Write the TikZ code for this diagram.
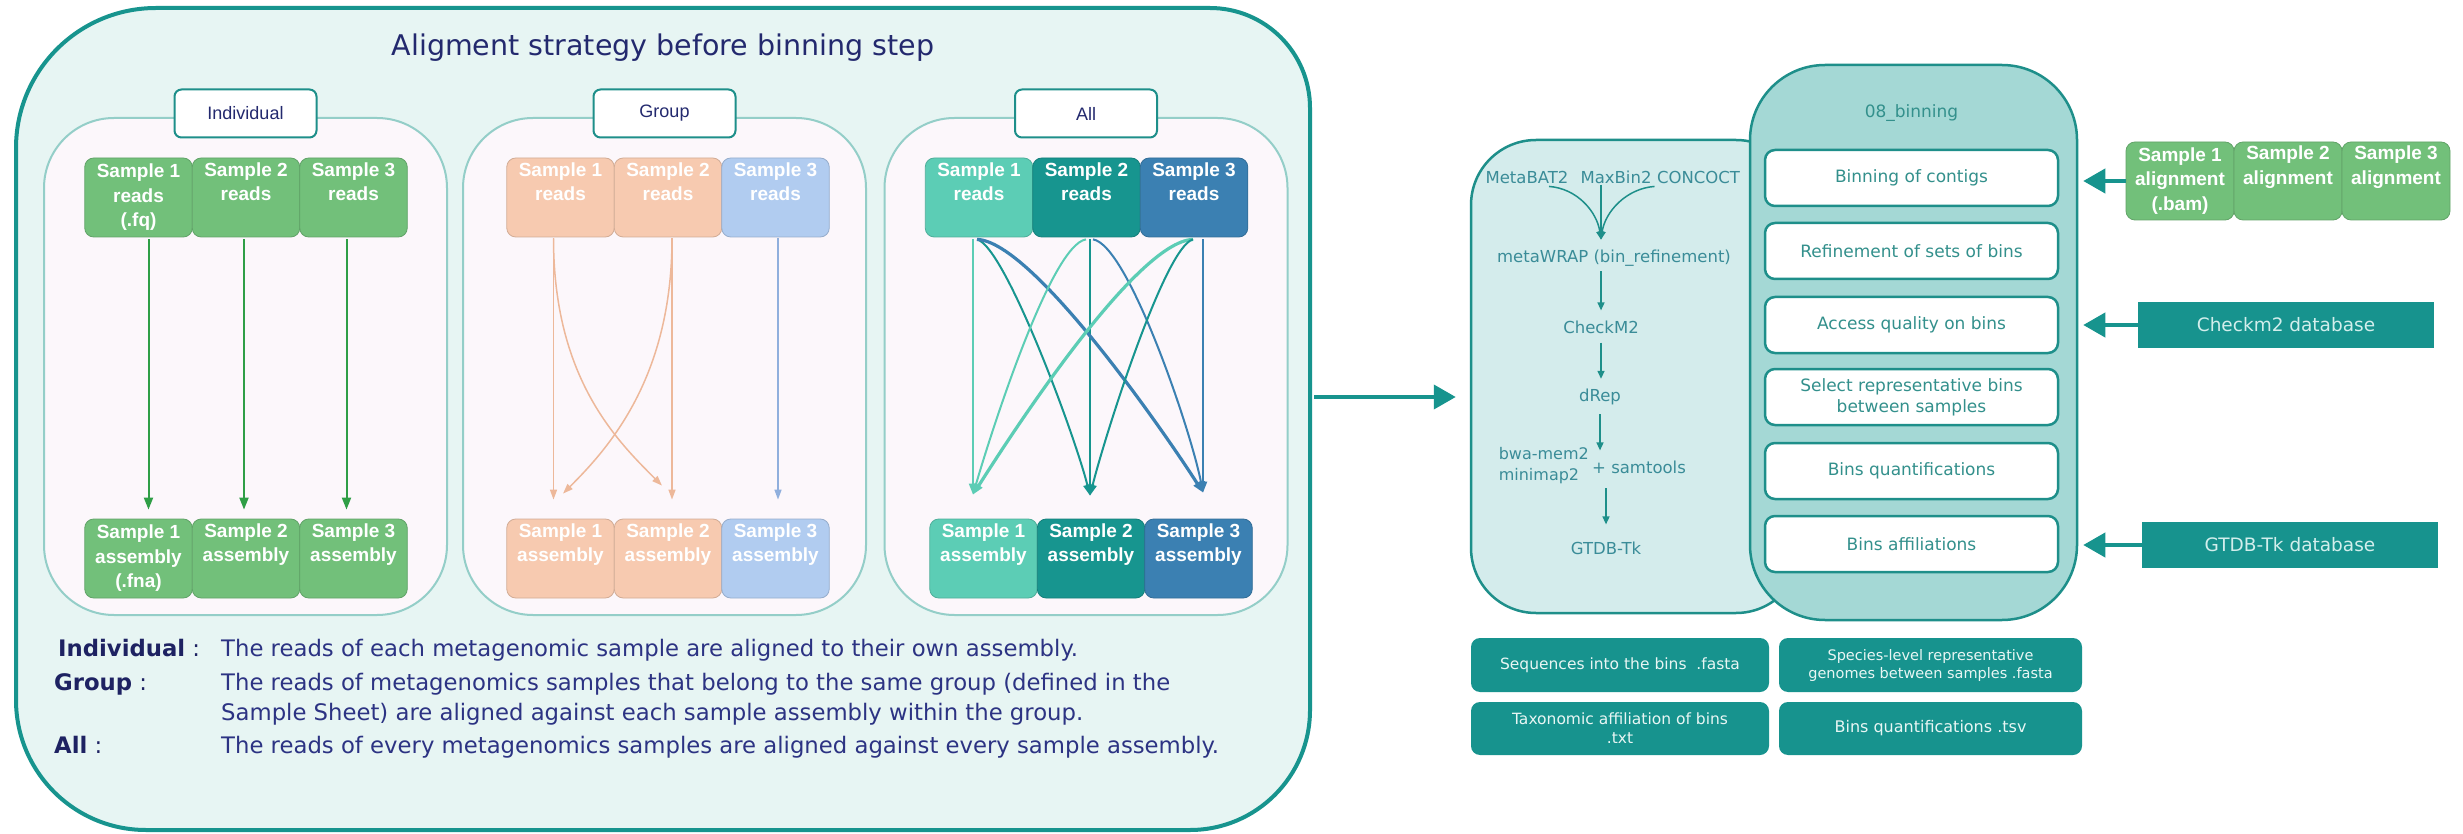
\documentclass[tikz,border=0pt]{standalone}
\usepackage{fontspec}
\setmainfont{DejaVu Sans}
\newfontfamily\arialf{Liberation Sans}
\usetikzlibrary{arrows.meta,calc}
\definecolor{outerfill}{HTML}{E7F5F3}
\definecolor{outerline}{HTML}{17948E}
\definecolor{panelfill}{HTML}{FCF7FB}
\definecolor{panelline}{HTML}{94CEC8}
\definecolor{navy}{HTML}{23296E}
\definecolor{navydark}{HTML}{1E2262}
\definecolor{navytext}{HTML}{2C3383}
\definecolor{sgreen}{HTML}{72C07A}
\definecolor{agreen}{HTML}{2F9E46}
\definecolor{speach}{HTML}{F7CAB0}
\definecolor{apeach}{HTML}{EDB89A}
\definecolor{sblue}{HTML}{B1CCF0}
\definecolor{ablue}{HTML}{90AFDD}
\definecolor{amint}{HTML}{5CCDB5}
\definecolor{ateal}{HTML}{17958F}
\definecolor{asteel}{HTML}{3B80B2}
\definecolor{toolfill}{HTML}{D4ECEC}
\definecolor{binfill}{HTML}{A4D8D5}
\definecolor{tealline}{HTML}{1E8F8A}
\definecolor{tealtext}{HTML}{33908C}
\definecolor{tooltext}{HTML}{3A8C98}
\definecolor{outbox}{HTML}{17938E}
\definecolor{outtext}{HTML}{E8F6F4}
\definecolor{dbtext}{HTML}{D2EEEC}
\begin{document}
\begin{tikzpicture}[x=1pt,y=-1pt,
 panel/.style={draw=panelline, line width=2pt, fill=panelfill, rounded corners=70pt, minimum width=403pt, minimum height=497pt, inner sep=0pt},
 labelbox/.style={draw=tealline, line width=2pt, fill=white, rounded corners=7pt, minimum width=142pt, minimum height=48pt, inner sep=0pt, text=navy, font=\arialf\fontsize{18}{20}\selectfont},
 sbox/.style={fill=#1, draw=#1!85!black, line width=0.8pt, rounded corners=9pt, minimum width=107.5pt, minimum height=79pt, inner sep=0pt, align=center, text=white, font=\arialf\bfseries\fontsize{19}{24.5}\selectfont},
 garrow/.style={draw=agreen, line width=2pt, shorten <=2pt, shorten >=9pt, -{Triangle[length=12pt,width=9pt]}},
 parrow/.style={draw=#1, line width=1.5pt, -{Triangle[length=10pt,width=7pt]}},
 aarrow/.style={draw=#1, line width=2pt, -{Triangle[length=11pt,width=8pt]}},
 desc/.style={anchor=base west, inner sep=0pt, text=navytext, font=\fontsize{22.75}{26}\selectfont},
 desclbl/.style={anchor=base west, inner sep=0pt, text=navydark, font=\fontsize{22.75}{26}\selectfont},
 toolpanel/.style={draw=tealline, line width=2.5pt, fill=toolfill, rounded corners=65pt, inner sep=0pt},
 binpanel/.style={draw=tealline, line width=2.5pt, fill=binfill, rounded corners=75pt, inner sep=0pt},
 tooltxt/.style={text=tooltext, inner sep=1pt, font=\fontsize{16.5}{21}\selectfont},
 tarrow/.style={draw=tealline, line width=1.5pt, -{Triangle[length=8pt,width=7pt]}},
 rbox/.style={draw=tealline, line width=2.5pt, fill=white, rounded corners=10pt, minimum width=293pt, minimum height=56pt, inner sep=0pt, align=center, text=tealtext, font=\fontsize{17}{21}\selectfont},
 dbox/.style={fill=outbox, minimum width=296pt, minimum height=46pt, inner sep=0pt, text=dbtext, font=\fontsize{18.5}{22}\selectfont},
 obox/.style={fill=outbox, rounded corners=9pt, inner sep=0pt, align=center, text=outtext},
 bigarrow/.style={draw=outerline, line width=4pt, -{Triangle[length=22pt,width=24pt]}}
]
\useasboundingbox (0,0) rectangle (2463,834);
\fill[white] (0,0) rectangle (2463,834);

% ---------- outer box ----------
\path[fill=outerfill, draw=outerline, line width=4pt]
  (16,148) arc[start angle=180,end angle=270,radius=140] -- (1210,8)
  arc[start angle=270,end angle=360,radius=100] -- (1310,710)
  arc[start angle=0,end angle=90,radius=120] -- (146,830)
  arc[start angle=90,end angle=180,radius=130] -- cycle;
\node[inner sep=0pt, minimum width=1294pt, minimum height=822pt] (outer) at (663,419) {};
\node[text=navy, font=\fontsize{28.5}{32}\selectfont] (title) at (663,48) {Aligment strategy before binning step};

% ---------- panels ----------
\node[panel] (pInd) at (245.5,366.5) {};
\node[panel] (pGrp) at (664.5,366.5) {};
\node[panel] (pAll) at (1086,366.5) {};
\node[labelbox] (lInd) at (245.5,113.5) {Individual};
\node[labelbox] (lGrp) at (664.5,113.5) {Group};
\node[labelbox] (lAll) at (1086,113.5) {All};

% Individual
\node[sbox=sgreen] (i1t) at (138.5,197.5) {Sample 1\\reads\\(.fq)};
\node[sbox=sgreen] (i2t) at (246,197.5) {Sample 2\\reads\\\strut};
\node[sbox=sgreen] (i3t) at (353.5,197.5) {Sample 3\\reads\\\strut};
\node[sbox=sgreen] (i1b) at (138.5,558.5) {Sample 1\\assembly\\(.fna)};
\node[sbox=sgreen] (i2b) at (246,558.5) {Sample 2\\assembly\\\strut};
\node[sbox=sgreen] (i3b) at (353.5,558.5) {Sample 3\\assembly\\\strut};
\draw[garrow] ([xshift=10pt]i1t.south) -- ([xshift=10pt]i1t.south |- i1b.north);
\draw[garrow] ([xshift=-2pt]i2t.south) -- ([xshift=-2pt]i2t.south |- i2b.north);
\draw[garrow] ([xshift=-7pt]i3t.south) -- ([xshift=-7pt]i3t.south |- i3b.north);

% Group
\node[sbox=speach] (g1t) at (560.5,197.5) {Sample 1\\reads\\\strut};
\node[sbox=speach] (g2t) at (668,197.5) {Sample 2\\reads\\\strut};
\node[sbox=sblue] (g3t) at (775.5,197.5) {Sample 3\\reads\\\strut};
\node[sbox=speach] (g1b) at (560.5,558.5) {Sample 1\\assembly\\\strut};
\node[sbox=speach] (g2b) at (668,558.5) {Sample 2\\assembly\\\strut};
\node[sbox=sblue] (g3b) at (775.5,558.5) {Sample 3\\assembly\\\strut};
\coordinate (GS1) at ($(g1t.south)+(-7,1)$);
\coordinate (GS2) at ($(g2t.south)+(4,1)$);
\coordinate (GS3) at ($(g3t.south)+(2.5,1)$);
\draw[parrow=apeach] (GS1) -- ($(GS1 |- g1b.north)+(0,-19)$);
\draw[parrow=apeach] (GS2) -- ($(GS2 |- g2b.north)+(0,-19)$);
\draw[parrow=ablue] (GS3) -- ($(GS3 |- g3b.north)+(0,-19)$);
\draw[parrow=apeach] (GS1) .. controls +(0,140) and +(-45,-45) .. ($(g2b.north)+(-6,-33)$);
\draw[parrow=apeach] (GS2) .. controls +(0,140) and +(45,-45) .. ($(g1b.north)+(2.5,-25)$);

% All
\node[sbox=amint] (a1t) at (979,197.5) {Sample 1\\reads\\\strut};
\node[sbox=ateal] (a2t) at (1086.5,197.5) {Sample 2\\reads\\\strut};
\node[sbox=asteel] (a3t) at (1194,197.5) {Sample 3\\reads\\\strut};
\node[sbox=amint] (a1b) at (983.5,558.5) {Sample 1\\assembly\\\strut};
\node[sbox=ateal] (a2b) at (1091,558.5) {Sample 2\\assembly\\\strut};
\node[sbox=asteel] (a3b) at (1198.5,558.5) {Sample 3\\assembly\\\strut};
\coordinate (S1) at ($(a1t.south)+(-6,2)$);
\coordinate (S2) at ($(a2t.south)+(3.5,2)$);
\coordinate (S3) at ($(a3t.south)+(9,2)$);
\coordinate (D1) at ($(S1 |- a1b.north)+(0,-24)$);
\coordinate (D2) at ($(S2 |- a2b.north)+(0,-23)$);
\coordinate (D3) at ($(S3 |- a3b.north)+(0,-26)$);
\draw[aarrow=amint] (S1) -- (D1);
\draw[aarrow=ateal] (S2) -- (D2);
\draw[aarrow=asteel] (S3) -- (D3);
\draw[aarrow=ateal] ($(S1)+(4,0)$) .. controls +(28,7) and +(-15,-60) .. (D2);
\draw[aarrow=asteel, line width=3.2pt] ($(S1)+(4,0)$) .. controls +(57,2) and +(-33,-52) .. (D3);
\draw[aarrow=amint] ($(S2)+(-4,0)$) .. controls +(-35,5) and +(18,-62) .. (D1);
\draw[aarrow=asteel] ($(S2)+(3,0)$) .. controls +(35,5) and +(-12,-62) .. (D3);
\draw[aarrow=amint, line width=3.2pt] ($(S3)+(-10,0)$) .. controls +(-58,2) and +(33,-52) .. (D1);
\draw[aarrow=ateal] ($(S3)+(-10,0)$) .. controls +(-28,7) and +(15,-60) .. (D2);

% ---------- legend text ----------
\node[desclbl] (tI) at (58,656) {\textbf{Individual} :};
\node[desc] (dI) at (221,656) {The reads of each metagenomic sample are aligned to their own assembly.};
\node[desclbl] (tG) at (54,690) {\textbf{Group} :};
\node[desc] (dG) at (221,690) {The reads of metagenomics samples that belong to the same group (defined in the};
\node[desc] (dG2) at (221,720) {Sample Sheet) are aligned against each sample assembly within the group.};
\node[desclbl] (tA) at (54,753) {\textbf{All} :};
\node[desc] (dA) at (221,753) {The reads of every metagenomics samples are aligned against every sample assembly.};

% ---------- right part ----------
\node[toolpanel, minimum width=330pt, minimum height=473pt] (tools) at (1636,376.5) {};
\node[binpanel, minimum width=327pt, minimum height=555pt] (binp) at (1913.5,342.5) {};
\draw[bigarrow] ($(outer.east)+(4,-22)$) -- ($(outer.east -| tools.west)+(-14,-22)$);

\node[text=tealtext, font=\fontsize{17}{21}\selectfont] (binlbl) at (1911.5,113) {08\_binning};
\node[rbox] (rb1) at (1911.5,178) {Binning of contigs};
\node[rbox] (rb2) at (1911.5,251) {Refinement of sets of bins};
\node[rbox] (rb3) at (1911.5,325) {Access quality on bins};
\node[rbox] (rb4) at (1911.5,397) {Select representative bins\\between samples};
\node[rbox] (rb5) at (1911.5,471) {Bins quantifications};
\node[rbox] (rb6) at (1911.5,544) {Bins affiliations};

% tools
\node[tooltxt] (metabat) at (1527,177) {MetaBAT2};
\node[tooltxt] (maxbin) at (1616,177) {MaxBin2};
\node[tooltxt] (concoct) at (1698.5,177) {CONCOCT};
\node[tooltxt] (metawrap) at (1614,258) {metaWRAP (bin\_refinement)};
\node[tooltxt] (checkm) at (1601,327) {CheckM2};
\node[tooltxt] (drep) at (1600,397) {dRep};
\node[tooltxt, align=left, anchor=east, font=\fontsize{16}{21}\selectfont] (bwa) at (1590,466) {bwa-mem2\\minimap2};
\node[tooltxt, anchor=west] (plus) at (1591,467) {+ samtools};
\node[tooltxt] (gtdb) at (1606,548) {GTDB-Tk};
\draw[tarrow] ($(metabat.south)+(22,2)$) .. controls +(28,2) and +(-4,-28) .. ($(metawrap.north -| checkm.north)+(0,-9)$);
\draw[tarrow] (maxbin.south -| checkm.north) -- ($(metawrap.north -| checkm.north)+(0,-9)$);
\draw[tarrow] ($(concoct.south)+(-44,2)$) .. controls +(-28,2) and +(4,-28) .. ($(metawrap.north -| checkm.north)+(0,-9)$);
\draw[tarrow, shorten <=4pt, shorten >=9pt] (metawrap.south -| checkm.north) -- (checkm.north);
\draw[tarrow, shorten <=8pt, shorten >=9pt] (checkm.south) -- (checkm.south |- drep.north);
\draw[tarrow, shorten <=8pt, shorten >=9pt] (drep.south) -- (drep.south |- plus.north);
\draw[tarrow, shorten <=3pt, shorten >=16pt] (bwa.south -| gtdb.north) -- (gtdb.north);

% alignment inputs and databases
\node[sbox=sgreen, minimum width=108pt, minimum height=78pt] (al1) at (2180,181) {Sample 1\\alignment\\(.bam)};
\node[sbox=sgreen, minimum width=108pt, minimum height=78pt] (al2) at (2288,181) {Sample 2\\alignment\\\strut};
\node[sbox=sgreen, minimum width=108pt, minimum height=78pt] (al3) at (2396,181) {Sample 3\\alignment\\\strut};
\node[dbox] (dbc) at (2286,325) {Checkm2 database};
\node[dbox] (dbg) at (2290,545) {GTDB-Tk database};
\draw[bigarrow] (al1.west) -- ($(al1.west -| binp.east)+(5,0)$);
\draw[bigarrow] (dbc.west) -- ($(dbc.west -| binp.east)+(5,0)$);
\draw[bigarrow] (dbg.west) -- ($(dbg.west -| binp.east)+(5,0)$);

% outputs
\node[obox, minimum width=298pt, minimum height=54pt, font=\fontsize{15.5}{19}\selectfont] (ob1) at (1620,665) {Sequences into the bins\ \ .fasta};
\node[obox, minimum width=303pt, minimum height=54pt, font=\fontsize{14.5}{18}\selectfont] (ob2) at (1930.5,665) {Species-level representative\\genomes between samples .fasta};
\node[obox, minimum width=298pt, minimum height=53pt, font=\fontsize{15.5}{19}\selectfont] (ob3) at (1620,728.5) {Taxonomic affiliation of bins\\.txt};
\node[obox, minimum width=303pt, minimum height=53pt, font=\fontsize{16}{19}\selectfont] (ob4) at (1930.5,728.5) {Bins quantifications .tsv};
\end{tikzpicture}
\end{document}
